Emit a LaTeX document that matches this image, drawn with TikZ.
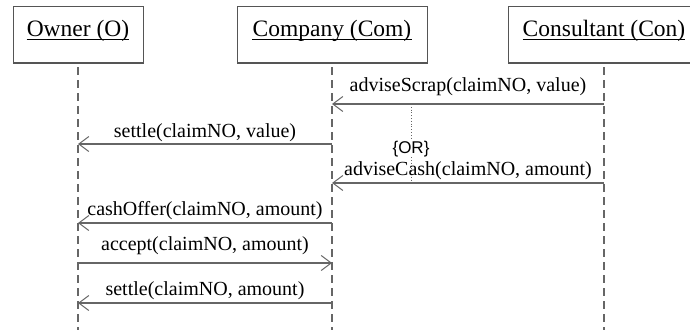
\documentclass[tikz,border=0pt]{standalone}
\usepackage{fontspec}
\setmainfont{Liberation Serif}
\newfontfamily\orfont{Liberation Sans}
\usetikzlibrary{arrows.meta}
\definecolor{linegray}{HTML}{666666}
\definecolor{boxgray}{HTML}{555555}
\tikzset{
  actor/.style={draw=boxgray, line width=1pt, minimum height=56pt, inner sep=0pt},
  actorname/.style={font=\fontsize{23.5}{28}\selectfont, inner sep=0pt, anchor=base},
  lifeline/.style={draw=linegray, line width=1.2pt, dash pattern=on 8pt off 5pt},
  msg/.style={draw=linegray, line width=1.2pt,
    -{Straight Barb[length=10pt,width=15pt,line width=1pt]}},
  msglabel/.style={font=\fontsize{20}{24}\selectfont, inner sep=0pt, anchor=base},
  orlabel/.style={font=\orfont\fontsize{17}{20}\selectfont, inner sep=0.5pt, anchor=base, fill=white},
}
\newcommand{\headunder}[1]{%
  \draw[black, line width=0.9pt] ([yshift=-2.5pt]#1.base west) -- ([yshift=-2.5pt]#1.base east);}
\begin{document}
\begin{tikzpicture}[x=1pt,y=-1pt]
\useasboundingbox (0,0) rectangle (690,329);
\clip (0,0) rectangle (690,329);

% participants
\node[actor, minimum width=130pt] (O) at (78,35) {};
\node[actor, minimum width=190pt] (Cm) at (332,35) {};
\node[actor, minimum width=192pt] (Cn) at (604,35) {};
\node[actorname] (On) at (78,37) {Owner (O)};
\node[actorname] (Cmn) at (332,37) {Company (Com)};
\node[actorname] (Cnn) at (604,37) {Consultant (Con)};
\headunder{On}
\headunder{Cmn}
\headunder{Cnn}

% lifelines
\coordinate (bot) at (0,330);
\coordinate (top) at (0,67);
\draw[lifeline] (O.south |- top) -- (O.south |- bot);
\draw[lifeline] (Cm.south |- top) -- (Cm.south |- bot);
\draw[lifeline] (Cn.south |- top) -- (Cn.south |- bot);

% message rows
\coordinate (r1) at (0,104);
\coordinate (r2) at (0,144);
\coordinate (r3) at (0,183);
\coordinate (r4) at (0,223);
\coordinate (r5) at (0,263);
\coordinate (r6) at (0,303);

% alternative marker between the two consultant messages
\coordinate (alt) at (411,0);
\draw[linegray, dotted, line width=0.8pt] (alt |- r1) -- (alt |- r3);
\node[orlabel] (or) at (411,153) {\{OR\}};

% messages
\draw[msg] (Cn.south |- r1) -- (Cm.south |- r1);
\node[msglabel] (l1) at (468,91) {adviseScrap(claimNO, value)};

\draw[msg] (Cm.south |- r2) -- (O.south |- r2);
\node[msglabel] (l2) at (205,137) {settle(claimNO, value)};

\draw[msg] (Cn.south |- r3) -- (Cm.south |- r3);
\node[msglabel] (l3) at (468,175) {adviseCash(claimNO, amount)};

\draw[msg] (Cm.south |- r4) -- (O.south |- r4);
\node[msglabel] (l4) at (205,215) {cashOffer(claimNO, amount)};

\draw[msg] (O.south |- r5) -- (Cm.south |- r5);
\node[msglabel] (l5) at (205,250) {accept(claimNO, amount)};

\draw[msg] (Cm.south |- r6) -- (O.south |- r6);
\node[msglabel] (l6) at (205,295) {settle(claimNO, amount)};
\end{tikzpicture}
\end{document}
